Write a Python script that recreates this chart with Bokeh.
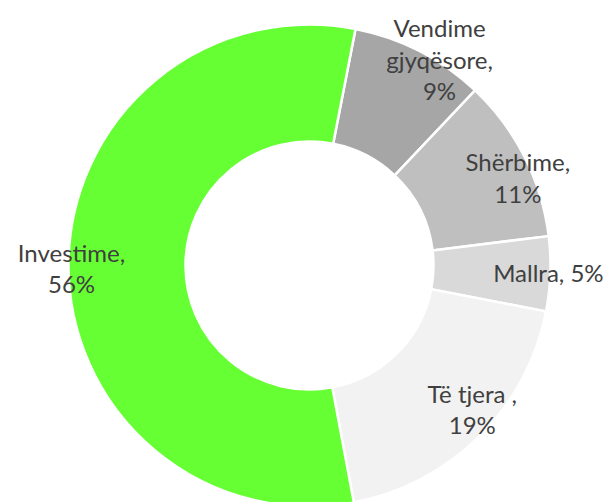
import math
from bokeh.plotting import figure
from bokeh.models import ColumnDataSource, Range1d
from bokeh.core.properties import value
from bokeh.embed import file_html
from bokeh.resources import INLINE

# ---- data ----
categories = ["Vendime gjyqësore", "Shërbime", "Mallra", "Të tjera", "Investime"]
shares = [9, 11, 5, 19, 56]
label_texts = ["Vendime\ngjyqësore,\n9%", "Shërbime,\n11%", "Mallra, 5%",
               "Të tjera ,\n19%", "Investime,\n56%"]
colors = ["#A6A6A6", "#BFBFBF", "#D9D9D9", "#F2F2F2", "#66FF33"]

# ---- layout / style ----
W, H = 611, 502
first_slice_deg = 11.0
cx, cy = 309, H - 265
r_out, r_in = 241, 124
label_radius = [244, 226, 239, 217, 238]
label_nudge_deg = [5.0, 4.0, -0.3, -3.8, -0.8]

total = float(sum(shares))
starts, ends, mids = [], [], []
acc = 0.0
for s in shares:
    a0 = first_slice_deg + 360.0 * acc / total
    acc += s
    a1 = first_slice_deg + 360.0 * acc / total
    starts.append(math.radians(90.0 - a1))
    ends.append(math.radians(90.0 - a0))
    mids.append((a0 + a1) / 2.0)

wedge_src = ColumnDataSource(dict(cat=categories, start=starts, end=ends, color=colors,
                                  x=[cx] * len(shares), y=[cy] * len(shares)))

lx, ly = [], []
for m, r, n in zip(mids, label_radius, label_nudge_deg):
    a = math.radians(m + n)
    lx.append(cx + r * math.sin(a))
    ly.append(cy + r * math.cos(a))
label_src = ColumnDataSource(dict(x=lx, y=ly, text=label_texts))

p = figure(width=W, height=H, x_range=Range1d(0, W), y_range=Range1d(0, H),
           output_backend="svg", toolbar_location=None, min_border=0,
           x_axis_location=None, y_axis_location=None)
p.grid.visible = False
p.outline_line_color = None
p.background_fill_color = "white"
p.border_fill_color = "white"

p.annular_wedge(x="x", y="y", inner_radius=r_in, outer_radius=r_out,
                start_angle="start", end_angle="end", fill_color="color",
                line_color="white", line_width=2.5, source=wedge_src)

p.text(x="x", y="y", text="text", source=label_src, text_align="center",
       text_baseline="middle", text_font=value("Lato"), text_font_size="24px",
       text_color="#404040", text_line_height=1.1)

open("out.html", "w").write(file_html(p, INLINE))
